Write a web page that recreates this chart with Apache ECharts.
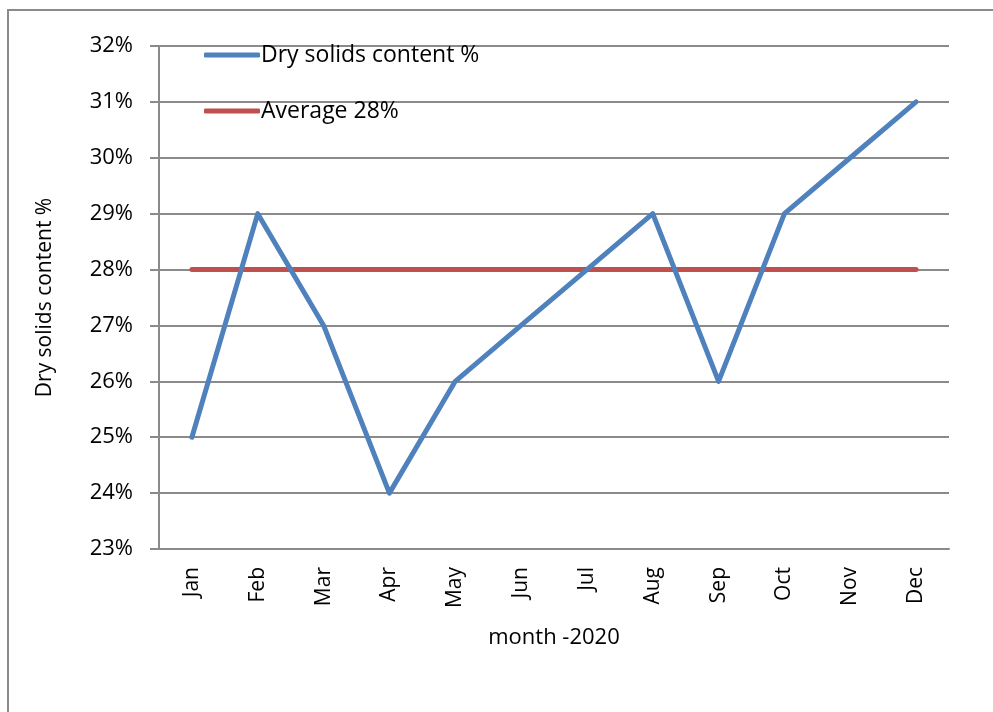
<!DOCTYPE html>
<html>
<head>
<meta charset="utf-8">
<script src="https://cdn.jsdelivr.net/npm/echarts@6/dist/echarts.min.js"></script>
<style>
  html, body { margin: 0; padding: 0; background: #fff; }
  #chart { width: 993px; height: 712px; }
</style>
</head>
<body>
<div id="chart"></div>
<script>
  var months = ['Jan', 'Feb', 'Mar', 'Apr', 'May', 'Jun', 'Jul', 'Aug', 'Sep', 'Oct', 'Nov', 'Dec'];
  var drySolids = [25, 29, 27, 24, 26, 27, 28, 29, 26, 29, 30, 31];
  var average = [28, 28, 28, 28, 28, 28, 28, 28, 28, 28, 28, 28];

  var font = '"Open Sans", "Noto Sans", sans-serif';
  var chart = echarts.init(document.getElementById('chart'));
  chart.setOption({
    animation: false,
    textStyle: { fontFamily: font },
    graphic: [{
      type: 'rect',
      shape: { x: 8, y: 10, width: 1000, height: 720 },
      style: { fill: 'none', stroke: '#8a8a8a', lineWidth: 2 },
      silent: true
    }],
    grid: { left: 159, right: 44, top: 46, bottom: 163 },
    legend: {
      orient: 'vertical',
      left: 199,
      top: 36,
      icon: 'roundRect',
      itemWidth: 56,
      itemHeight: 5,
      itemGap: 28,
      textStyle: { fontSize: 23, lineHeight: 28, color: '#000', fontFamily: font, padding: [0, 0, 0, -4] },
      data: ['Dry solids content %', 'Average 28%']
    },
    xAxis: {
      type: 'category',
      data: months,
      name: 'month -2020',
      nameLocation: 'middle',
      nameGap: 78,
      nameTextStyle: { fontSize: 22, color: '#000' },
      axisLine: { lineStyle: { color: '#8a8a8a', width: 2 } },
      axisTick: { show: false },
      axisLabel: { rotate: 90, fontSize: 21, color: '#000', margin: 18 },
      splitLine: { show: false }
    },
    yAxis: {
      type: 'value',
      min: 23,
      max: 32,
      interval: 1,
      name: 'Dry solids content %',
      nameLocation: 'middle',
      nameRotate: 90,
      nameGap: 103,
      nameTextStyle: { fontSize: 21, color: '#000' },
      axisLine: { show: true, lineStyle: { color: '#8a8a8a', width: 2 } },
      axisTick: { show: true, inside: false, length: 9, lineStyle: { color: '#8a8a8a', width: 2 } },
      axisLabel: { formatter: '{value}%', fontSize: 22, color: '#000', margin: 26 },
      splitLine: { lineStyle: { color: '#8a8a8a', width: 2 } }
    },
    series: [
      {
        name: 'Dry solids content %',
        type: 'line',
        data: drySolids,
        symbol: 'none',
        itemStyle: { color: '#4F81BD' },
        lineStyle: { color: '#4F81BD', width: 5, cap: 'round', join: 'round' },
        z: 3
      },
      {
        name: 'Average 28%',
        type: 'line',
        data: average,
        symbol: 'none',
        itemStyle: { color: '#C0504D' },
        lineStyle: { color: '#C0504D', width: 5, cap: 'round' },
        z: 2
      }
    ]
  });
</script>
</body>
</html>
